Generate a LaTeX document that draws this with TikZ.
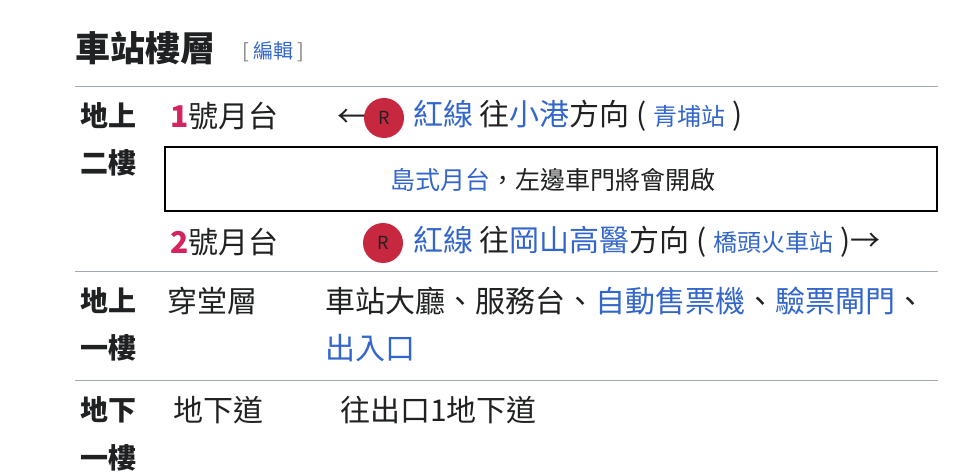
\documentclass[tikz,border=0pt]{standalone}
\usepackage{fontspec}
\setmainfont{Noto Sans CJK TC}
\definecolor{lk}{HTML}{3366CC}
\definecolor{rl}{HTML}{C8283F}
\definecolor{num}{HTML}{D3245E}
\definecolor{gl}{HTML}{A2A9B1}
\definecolor{tx}{HTML}{202122}
\begin{document}
\begin{tikzpicture}[x=1pt,y=-1pt,
  t/.style={anchor=west,inner sep=0,text=tx,font=\fontsize{30}{32}\selectfont},
  hd/.style={t,font=\fontsize{28}{32}\selectfont\bfseries},
  bx/.style={t,font=\fontsize{25}{28}\selectfont},
  sep/.style={gl,line width=1pt},
  rc/.style={circle,fill=rl,minimum size=40pt,inner sep=0,text=tx,font=\fontsize{18}{18}\selectfont}]
\useasboundingbox (0,0) rectangle (958,473);
\node[t,font=\fontsize{35}{38}\selectfont\bfseries] (title) at (75,48) {車站樓層};
\node[t,font=\fontsize{20}{24}\selectfont] (edit) at (242,52) {\textcolor{gray}{[} \textcolor{lk}{編輯} \textcolor{gray}{]}};
\coordinate (l1a) at (75,87); \coordinate (l1b) at (938,87);
\draw[sep] (l1a) -- (l1b);
\node[hd] (f1) at (80,116) {地上};
\node[hd] (f2) at (80,163) {二樓};
\node[t] (p1) at (170,116) {\textbf{\textcolor{num}{1}}號月台};
\node[t] (a1) at (337,118) {←};
\node[rc] (r1) at (384,118) {R};
\node[t] (d1) at (413,116) {\textcolor{lk}{紅線} 往\textcolor{lk}{小港}方向 ( {\fontsize{24}{28}\selectfont\textcolor{lk}{青埔站}} )};
\node[draw=black,line width=2pt,minimum width=772pt,minimum height=64pt,inner sep=0] (box) at (551,179) {};
\node[bx,anchor=center] (bt) at (553,180) {\textcolor{lk}{島式月台}，左邊車門將會開啟};
\node[t] (p2) at (170,242) {\textbf{\textcolor{num}{2}}號月台};
\node[rc] (r2) at (383,243) {R};
\node[t] (d2) at (413,242) {\textcolor{lk}{紅線} 往\textcolor{lk}{岡山高醫}方向 ( {\fontsize{24}{28}\selectfont\textcolor{lk}{橋頭火車站}} )→};
\coordinate (l2a) at (75,271); \coordinate (l2b) at (938,271);
\draw[sep] (l2a) -- (l2b);
\node[hd] (g1) at (80,301) {地上};
\node[hd] (g2) at (80,348) {一樓};
\node[t] (c1) at (167,301) {穿堂層};
\node[t] (c2) at (325,301) {車站大廳、服務台、\textcolor{lk}{自動售票機}、\textcolor{lk}{驗票閘門}、};
\node[t] (c3) at (325,348) {\textcolor{lk}{出入口}};
\coordinate (l3a) at (75,380); \coordinate (l3b) at (938,380);
\draw[sep] (l3a) -- (l3b);
\node[hd] (h1) at (80,410) {地下};
\node[hd] (h2) at (80,458) {一樓};
\node[t] (u1) at (173,410) {地下道};
\node[t] (u2) at (340,410) {往出口1地下道};
\end{tikzpicture}
\end{document}
